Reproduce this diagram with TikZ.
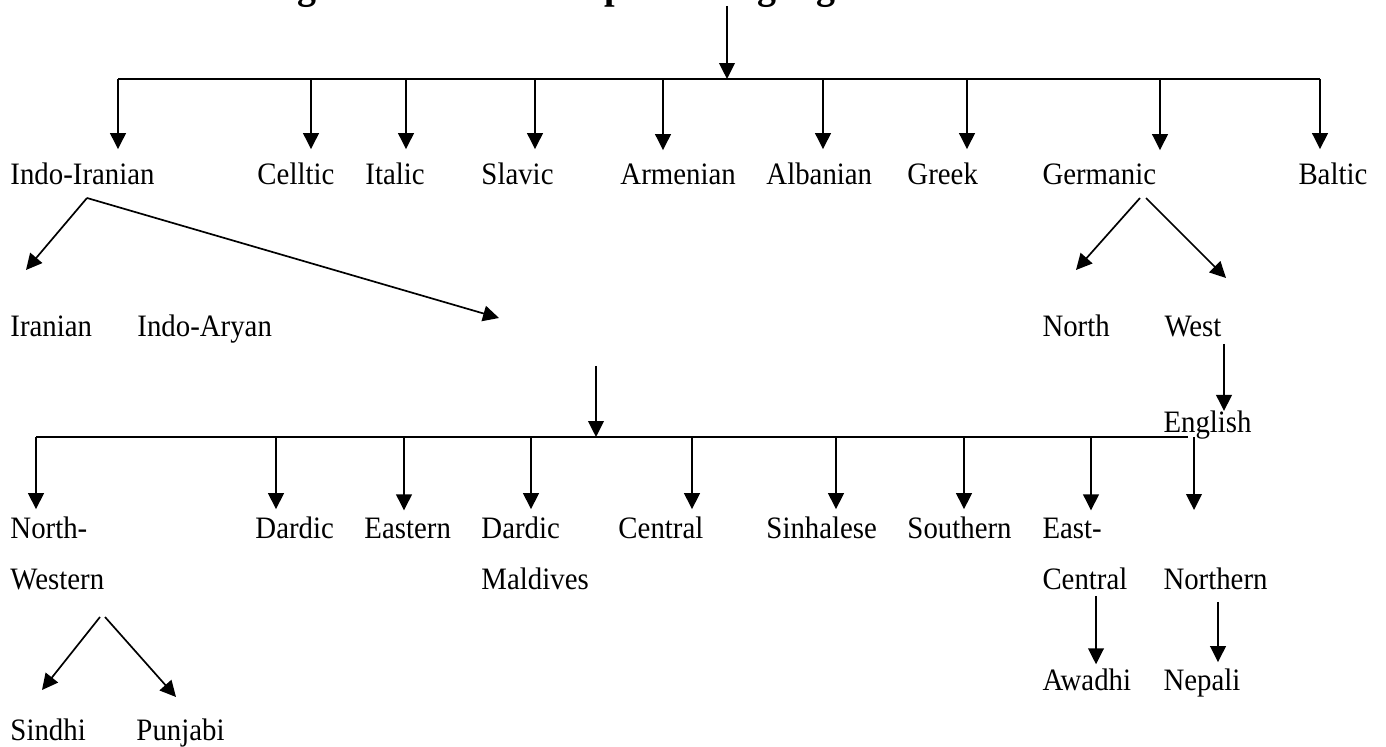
\documentclass[tikz,border=0pt]{standalone}
\usepackage{fontspec}
\setmainfont{Liberation Serif}[FakeStretch=0.925]
\usetikzlibrary{arrows.meta}

\begin{document}
\begin{tikzpicture}[x=0.414pt,y=0.414pt,yscale=-1,xscale=1,
  lang/.style={anchor=base west,inner sep=0pt,align=left,font=\fontsize{12.9pt}{20.7pt}\selectfont},
  arr/.style={line width=0.7pt,-{Triangle[length=6.6pt,width=6.5pt]}},
  bar/.style={line width=0.7pt}]
\useasboundingbox (0,0) rectangle (1386,747);

% Title Node (only its lower edge shows)
\node [anchor=base west,inner sep=0pt,font=\fontsize{17pt}{20pt}\selectfont\bfseries] (title) at (240,-1.5) {Diagram of Indo-European Languages};

% Text Node
\node [lang] (indoiranian) at (10,185) {Indo-Iranian};
\node [lang] (celtic) at (257,185) {Celltic};
\node [lang] (italic) at (365,185) {Italic};
\node [lang] (slavic) at (481,185) {Slavic};
\node [lang] (armenian) at (620,185) {Armenian};
\node [lang] (albanian) at (766,185) {Albanian};
\node [lang] (greek) at (907,185) {Greek};
\node [lang] (germanic) at (1042,185) {Germanic};
\node [lang] (baltic) at (1298,185) {Baltic};
% Text Node
\node [lang] (iranian) at (10,337) {Iranian};
\node [lang] (indoaryan) at (137,337) {Indo-Aryan};
\node [lang] (north) at (1042,337) {North};
\node [lang] (west) at (1164,337) {West};
\node [lang] (english) at (1163,433) {English};
% Text Node
\node [lang] (northwestern) at (10,589) {North-\\Western};
\node [lang] (dardic) at (255,539) {Dardic};
\node [lang] (eastern) at (364,539) {Eastern};
\node [lang] (dardicmaldives) at (481,589) {Dardic\\Maldives};
\node [lang] (central) at (618,539) {Central};
\node [lang] (sinhalese) at (766,539) {Sinhalese};
\node [lang] (southern) at (907,539) {Southern};
\node [lang] (eastcentral) at (1042,589) {East-\\Central};
\node [lang] (northern) at (1163,589) {Northern};
% Text Node
\node [lang] (awadhi) at (1042,690) {Awadhi};
\node [lang] (nepali) at (1163,690) {Nepali};
\node [lang] (sindhi) at (10,740) {Sindhi};
\node [lang] (punjabi) at (136,740) {Punjabi};

% free ends
\coordinate (rootS) at (727,6);
\coordinate (topL) at (118,79);
\coordinate (topR) at (1320,79);
\coordinate (iaS) at (596,366);
\coordinate (lowL) at (36,437);
\coordinate (lowR) at (1188,437);
\coordinate (northernT) at (1194,510);
\coordinate (iiS) at (87,198);
\coordinate (iranianT) at (26,270);
\coordinate (indoaryanT) at (499,318);
\coordinate (gmL) at (1140,198);
\coordinate (gmR) at (1146,198);
\coordinate (northT) at (1076,270);
\coordinate (westT) at (1226,278);
\coordinate (nwL) at (100,617);
\coordinate (nwR) at (105,617);
\coordinate (sindhiT) at (42,690);
\coordinate (punjabiT) at (176,697);

%Straight Lines: first level
\draw [arr] (rootS) -- (rootS |- topL);
\draw [bar] (topL) -- (topR);
\foreach \x/\n in {118/indoiranian,311/celtic,406/italic,535/slavic,663/armenian,823/albanian,967/greek,1160/germanic,1320/baltic}
  \draw [arr,shorten >=5.7pt] (\x,0 |- topL) -- (\x,0 |- \n.north);

%Straight Lines: branches
\draw [arr] (iiS) -- (iranianT);
\draw [arr] (iiS) -- (indoaryanT);
\draw [arr] (gmL) -- (northT);
\draw [arr] (gmR) -- (westT);
\draw [arr,shorten <=2.5pt] (1224,0 |- west.south) -- (1224,0 |- english.north);

%Straight Lines: second level
\draw [arr] (iaS) -- (iaS |- lowL);
\draw [bar] (lowL) -- (lowR);
\foreach \x/\n in {36/northwestern,276/dardic,404/eastern,531/dardicmaldives,692/central,836/sinhalese,964/southern,1091/eastcentral}
  \draw [arr,shorten >=3.2pt] (\x,0 |- lowL) -- (\x,0 |- \n.north);
\draw [arr] (1194,0 |- lowL) -- (northernT);

%Straight Lines: lowest level
\draw [arr,shorten <=2.5pt,shorten >=1.5pt] (1096,0 |- eastcentral.south) -- (1096,0 |- awadhi.north);
\draw [arr,shorten <=5pt,shorten >=2.4pt] (1218,0 |- northern.south) -- (1218,0 |- nepali.north);
\draw [arr] (nwL) -- (sindhiT);
\draw [arr] (nwR) -- (punjabiT);

\end{tikzpicture}
\end{document}
